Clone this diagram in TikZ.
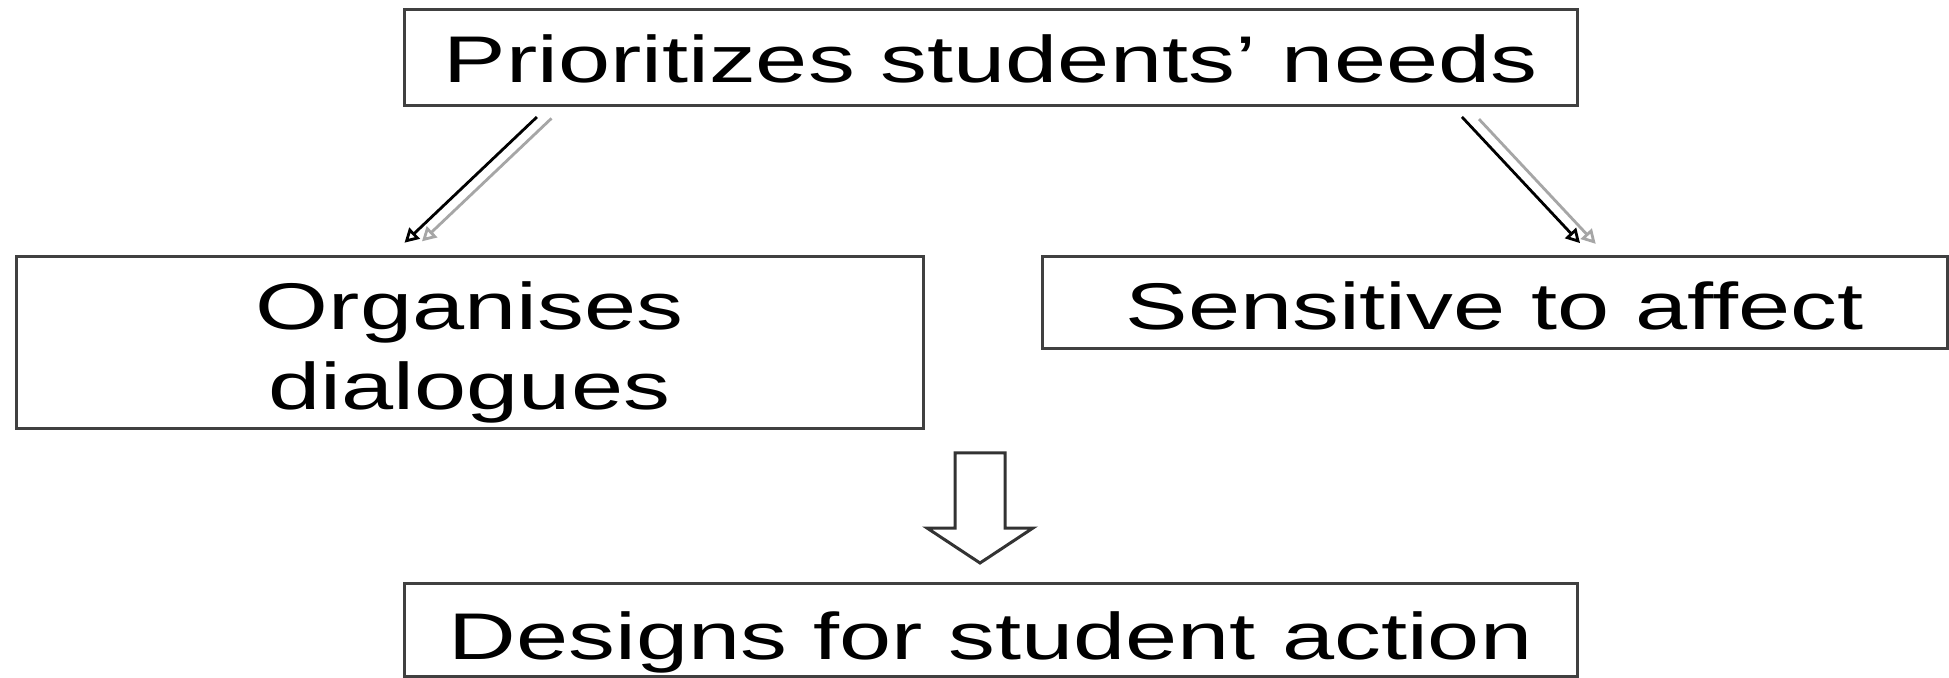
\documentclass[tikz,border=0pt]{standalone}
\usepackage{fontspec}
\newfontfamily\lblfont[FakeStretch=1.42]{Liberation Sans}
\usetikzlibrary{arrows.meta,calc}
\tikzset{
  box/.style={draw=black!75, line width=1.5pt, rectangle, inner sep=0pt, outer sep=0pt,
    text depth=0pt, font=\lblfont\fontsize{33pt}{40pt}\selectfont},
  conn/.style={line width=1.4pt, -{Triangle[open,length=7pt,width=7.5pt]}},
  connshadow/.style={conn, draw=black!35},
  blockarrow/.style={draw=black!80, line width=1.5pt, fill=white, line join=miter}
}
\begin{document}
\begin{tikzpicture}[x=0.5pt,y=-0.5pt]
\useasboundingbox[fill=white] (0,0) rectangle (1949,678);

\node[box, minimum width=586.5pt, minimum height=48pt, text height=25pt] (top) at (990.5,58) {Prioritizes students’ needs};
\node[box, minimum width=453.5pt, minimum height=86pt, text height=67.5pt] (left) at (469.5,342.5)
  {\vbox{\baselineskip=40pt\halign{\hfil#\hfil\cr Organises\cr dialogues\cr}}};
\node[box, minimum width=452.5pt, minimum height=46pt, text height=27pt] (right) at (1494.5,303) {Sensitive to affect};
\node[box, minimum width=586.5pt, minimum height=46.5pt, text height=29.5pt] (bottom) at (990.5,629.5) {Designs for student action};

% diagonal connectors (black with grey shadow)
\draw[connshadow, shorten <=9pt, shorten >=11pt] ($(top.south west)+(160.5,0)$) -- ($(left.north west)+(390,0)$);
\draw[conn, shorten <=8pt, shorten >=10pt] ($(top.south west)+(144.5,0)$) -- ($(left.north west)+(374,0)$);
\draw[connshadow, shorten <=9pt, shorten >=9pt] ($(top.south west)+(1062.7,0)$) -- ($(right.north west)+(566,0)$);
\draw[conn, shorten <=7.5pt, shorten >=9.5pt] ($(top.south west)+(1047.7,0)$) -- ($(right.north west)+(551,0)$);

% block arrow
\coordinate (ba) at (980,563);
\draw[blockarrow] ($(ba)+(-25,-110)$) -- ($(ba)+(25,-110)$) -- ($(ba)+(25,-35)$) -- ($(ba)+(53,-35)$)
  -- (ba) -- ($(ba)+(-53,-35)$) -- ($(ba)+(-25,-35)$) -- cycle;
\end{tikzpicture}
\end{document}
